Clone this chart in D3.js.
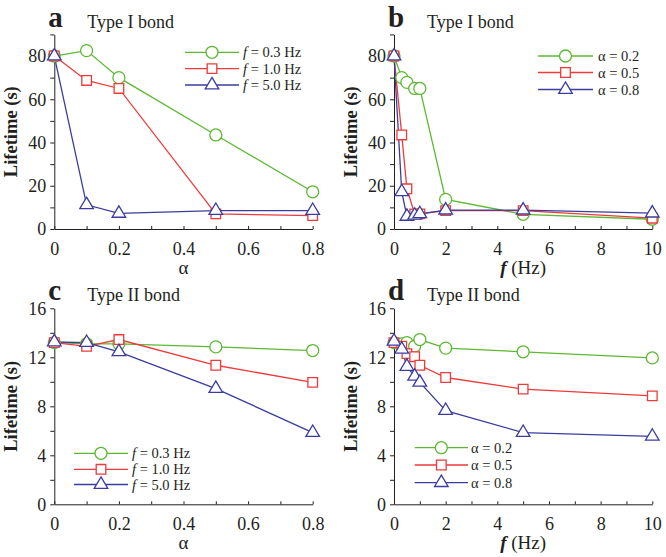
<!DOCTYPE html>
<html><head><meta charset="utf-8">
<script src="https://cdn.jsdelivr.net/npm/d3@7"></script>
<style>
html,body{margin:0;padding:0;background:#fff;}
svg{display:block;}
text{font-family:"Liberation Serif","Times New Roman",serif;fill:#231f20;}
</style></head>
<body>
<svg id="chart" width="666" height="557"></svg>
<script>
// ---- data ----
const alphaVals = [0, 0.1, 0.2, 0.5, 0.8];
const freqVals = [0, 0.3, 0.5, 0.8, 1.0, 2, 5, 10];

const aF03 = [80, 82.5, 70, 43.5, 17.2];
const aF10 = [80, 68.7, 65, 7, 6.2];
const aF50 = [80, 11.2, 7.2, 8.5, 8.5];

const bA02 = [80, 70, 67.8, 65, 65, 13.7, 6.8, 4.5];
const bA05 = [80, 43.5, 18.6, 7, 7, 8.5, 8.5, 5];
const bA08 = [80, 17.2, 5.8, 6.3, 7, 8.7, 8.7, 7.3];

const cF03 = [13.2, 13.1, 13.1, 12.85, 12.55];
const cF10 = [13.2, 12.9, 13.45, 11.35, 9.95];
const cF50 = [13.25, 13.2, 12.45, 9.45, 5.85];

const dA02 = [13.2, 13.1, 13.2, 12.9, 13.45, 12.75, 12.45, 11.95];
const dA05 = [13.2, 12.9, 12.3, 12.05, 11.35, 10.35, 9.4, 8.85];
const dA08 = [13.3, 12.65, 11.25, 10.45, 9.95, 7.65, 5.85, 5.55];

const fLegend = ["0.3 Hz", "1.0 Hz", "5.0 Hz"];
const aLegend = ["0.2", "0.5", "0.8"];
const alphaTicks = [0, 0.2, 0.4, 0.6, 0.8];
const freqTicks = [0, 2, 4, 6, 8, 10];
const lifeTicksI = [0, 20, 40, 60, 80];
const lifeTicksII = [0, 4, 8, 12, 16];

// ---- styles ----
const FONT = "Liberation Serif";
const colors = ["#5cb833", "#ee3a3a", "#3a3c9e"];
const markers = ["circle", "square", "triangle"];
const svg = d3.select("#chart");

function markerPath(type) {
  if (type === "circle") return d3.symbol().type(d3.symbolCircle).size(Math.PI * 6 * 6)();
  if (type === "square") return "M-4.8,-4.8H4.8V4.8H-4.8Z";
  return "M0,-7.6L6.8,3.8L-6.8,3.8Z";
}

function panel(opt) {
  const g = svg.append("g");
  const x = d3.scaleLinear().domain(opt.xDomain).range([opt.x0, opt.x1]);
  const y = d3.scaleLinear().domain(opt.yDomain).range([opt.y0, opt.y1]);

  g.append("g").attr("transform", `translate(${opt.x0},0)`)
    .call(d3.axisLeft(y).tickValues(opt.yMinor).tickSize(4).tickFormat("").tickSizeOuter(0))
    .call(s => s.select(".domain").remove());
  const ya = g.append("g").attr("transform", `translate(${opt.x0},0)`)
    .call(d3.axisLeft(y).tickValues(opt.yTicks).tickSize(4).tickPadding(4).tickSizeOuter(0));
  ya.attr("font-family", FONT);
  ya.selectAll("text").style("font-size", "18px").style("font-family", FONT);
  g.append("g").attr("transform", `translate(0,${opt.y0})`)
    .call(d3.axisBottom(x).tickValues(opt.xMinor).tickSize(-3).tickFormat("").tickSizeOuter(0))
    .call(s => s.select(".domain").remove());
  const xa = g.append("g").attr("transform", `translate(0,${opt.y0})`)
    .call(d3.axisBottom(x).tickValues(opt.xTicks).tickSize(-3).tickPadding(13).tickSizeOuter(0)
      .tickFormat(opt.xFmt));
  xa.attr("font-family", FONT);
  xa.selectAll("text").style("font-size", "18px").style("font-family", FONT);
  g.selectAll(".domain, .tick line").attr("stroke", "#231f20").attr("stroke-width", 1);

  opt.series.forEach((vals, i) => {
    const pts = vals.map((v, k) => [opt.xs[k], v]);
    g.append("path").datum(pts)
      .attr("fill", "none").attr("stroke", colors[i]).attr("stroke-width", 1.3)
      .attr("d", d3.line().x(d => x(d[0])).y(d => y(d[1])));
  });
  opt.series.forEach((vals, i) => {
    const pts = vals.map((v, k) => [opt.xs[k], v]);
    g.selectAll(null).data(pts).enter().append("path")
      .attr("d", markerPath(markers[i]))
      .attr("transform", d => `translate(${x(d[0])},${y(d[1])})`)
      .attr("fill", "#fff").attr("stroke", colors[i]).attr("stroke-width", 1.3);
  });

  opt.legend.forEach((lab, i) => {
    const ly = opt.leg.ys[i];
    g.append("line").attr("x1", opt.leg.x1).attr("x2", opt.leg.x2).attr("y1", ly).attr("y2", ly)
      .attr("stroke", colors[i]).attr("stroke-width", 1.3);
    g.append("path").attr("d", markerPath(markers[i]))
      .attr("transform", `translate(${(opt.leg.x1 + opt.leg.x2) / 2},${ly})`)
      .attr("fill", "#fff").attr("stroke", colors[i]).attr("stroke-width", 1.3);
    const t = g.append("text").attr("x", opt.leg.tx).attr("y", ly + 5).style("font-size", "14.5px");
    if (opt.legKind === "f") {
      t.append("tspan").style("font-style", "italic").text("f");
      t.append("tspan").text(" = " + lab);
    } else {
      t.text("\u03b1 = " + lab);
    }
  });

  g.append("text").attr("x", opt.x0 - 6).attr("y", opt.labelY)
    .style("font-size", "29px").style("font-weight", "bold").text(opt.letter);
  g.append("text").attr("x", opt.x0 + 33).attr("y", opt.labelY + 1)
    .style("font-size", "18px").text(opt.title);

  g.append("text").attr("transform", `translate(${opt.x0 - 37},${(opt.y0 + y(opt.yDomain[1])) / 2}) rotate(-90)`)
    .attr("text-anchor", "middle").style("font-size", "18.5px").style("font-weight", "bold")
    .text("Lifetime (s)");
  const xl = g.append("text").attr("x", (opt.x0 + opt.x1) / 2).attr("y", opt.y0 + 45)
    .attr("text-anchor", "middle").style("font-size", "19px");
  if (opt.legKind === "f") {
    xl.text("\u03b1");
  } else {
    xl.append("tspan").style("font-style", "italic").style("font-weight", "bold").text("f");
    xl.append("tspan").text(" (Hz)");
  }
}

const fmtA = d => d === 0 ? "0" : d3.format(".1f")(d);
const fmtF = d => String(d);

panel({ x0: 54.3, x1: 312.7, y0: 229, y1: 34.4, xDomain: [0, 0.8], yDomain: [0, 90],
  xs: alphaVals, series: [aF03, aF10, aF50], xTicks: alphaTicks, xMinor: [0.1, 0.3, 0.5, 0.7],
  xFmt: fmtA, yTicks: lifeTicksI, yMinor: [10, 30, 50, 70, 90],
  legend: fLegend, legKind: "f", leg: { x1: 185, x2: 239, ys: [52.3, 68.6, 85], tx: 243 },
  letter: "a", title: "Type I bond", labelY: 27 });

panel({ x0: 394, x1: 652.3, y0: 229, y1: 34.4, xDomain: [0, 10], yDomain: [0, 90],
  xs: freqVals, series: [bA02, bA05, bA08], xTicks: freqTicks, xMinor: [1, 3, 5, 7, 9],
  xFmt: fmtF, yTicks: lifeTicksI, yMinor: [10, 30, 50, 70, 90],
  legend: aLegend, legKind: "a", leg: { x1: 538, x2: 593, ys: [56, 72.5, 89.5], tx: 598 },
  letter: "b", title: "Type I bond", labelY: 27 });

panel({ x0: 54.3, x1: 312.7, y0: 504.3, y1: 308.3, xDomain: [0, 0.8], yDomain: [0, 16],
  xs: alphaVals, series: [cF03, cF10, cF50], xTicks: alphaTicks, xMinor: [0.1, 0.3, 0.5, 0.7],
  xFmt: fmtA, yTicks: lifeTicksII, yMinor: [2, 6, 10, 14],
  legend: fLegend, legKind: "f", leg: { x1: 74, x2: 128, ys: [453.3, 469.3, 484.5], tx: 132 },
  letter: "c", title: "Type II bond", labelY: 300 });

panel({ x0: 394, x1: 652.3, y0: 504.3, y1: 308.3, xDomain: [0, 10], yDomain: [0, 16],
  xs: freqVals, series: [dA02, dA05, dA08], xTicks: freqTicks, xMinor: [1, 3, 5, 7, 9],
  xFmt: fmtF, yTicks: lifeTicksII, yMinor: [2, 6, 10, 14],
  legend: aLegend, legKind: "a", leg: { x1: 414.7, x2: 468, ys: [447.7, 465, 482.7], tx: 471 },
  letter: "d", title: "Type II bond", labelY: 300 });
</script>
</body></html>
